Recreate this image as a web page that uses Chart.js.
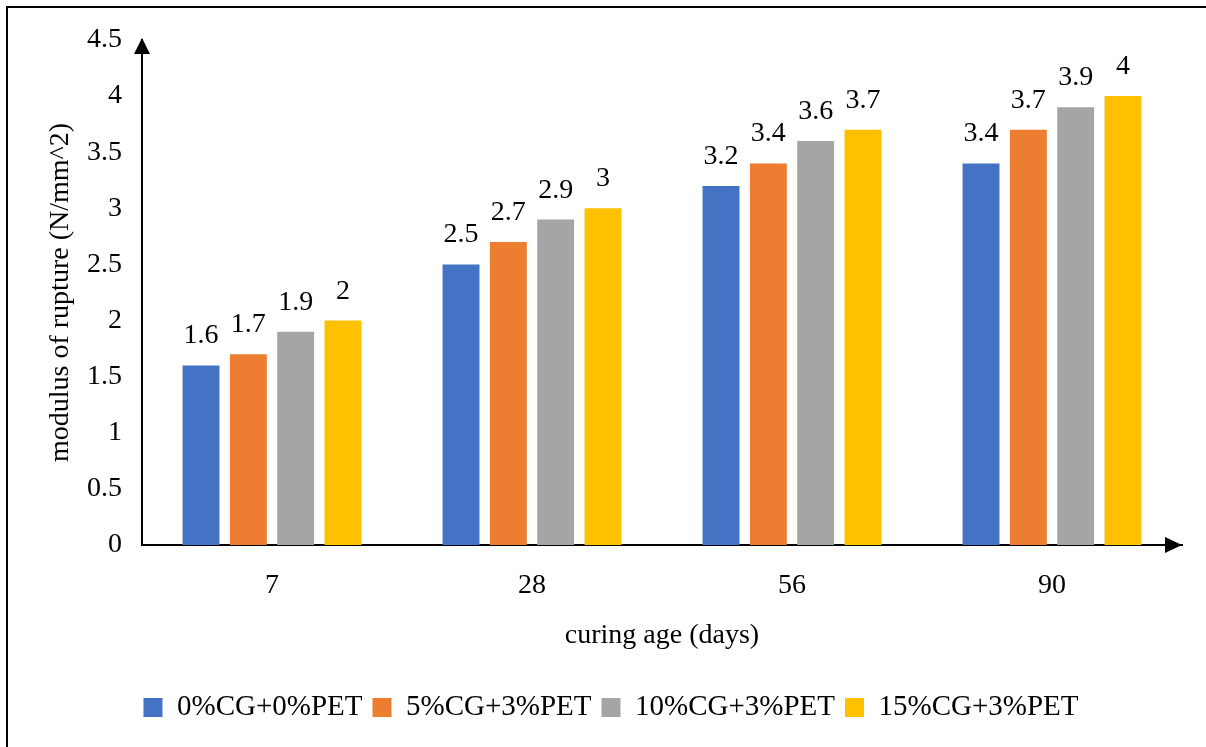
<!DOCTYPE html>
<html lang="en">
<head>
<meta charset="UTF-8">
<title>Modulus of rupture vs curing age</title>
<script src="https://cdn.jsdelivr.net/npm/chart.js@4.4.1/dist/chart.umd.min.js"></script>
<style>
    * { margin: 0; padding: 0; box-sizing: border-box; }
    body { background: #fff; width: 1206px; height: 747px; overflow: hidden; }
    .wrap { position: relative; width: 1206px; height: 747px; }
</style>
</head>
<body>
<div class="wrap"><canvas id="chart" width="1206" height="747"></canvas></div>
<script>
    // values
    const categories = ['7', '28', '56', '90'];
    const seriesNames = ['0%CG+0%PET', '5%CG+3%PET', '10%CG+3%PET', '15%CG+3%PET'];
    const mix0 = [1.6, 2.5, 3.2, 3.4];
    const mix5 = [1.7, 2.7, 3.4, 3.7];
    const mix10 = [1.9, 2.9, 3.6, 3.9];
    const mix15 = [2, 3, 3.7, 4];
    const yTicks = [0, 0.5, 1, 1.5, 2, 2.5, 3, 3.5, 4, 4.5];

    const colors = ['#4472C4', '#ED7D31', '#A5A5A5', '#FFC000'];
    const serif = '"Liberation Serif", "Times New Roman", serif';

    // outer frame + white background
    const framePlugin = {
        id: 'frame',
        beforeDraw(chart) {
            const ctx = chart.ctx;
            ctx.save();
            ctx.fillStyle = '#fff';
            ctx.fillRect(0, 0, chart.width, chart.height);
            ctx.strokeStyle = '#000';
            ctx.lineWidth = 2;
            ctx.beginPath();
            ctx.moveTo(7, chart.height);
            ctx.lineTo(7, 7);
            ctx.lineTo(chart.width, 7);
            ctx.stroke();
            ctx.restore();
        }
    };

    // value labels above bars
    const barLabels = {
        id: 'barLabels',
        afterDatasetsDraw(chart) {
            const ctx = chart.ctx;
            ctx.save();
            ctx.font = '28px ' + serif;
            ctx.fillStyle = '#000';
            ctx.textAlign = 'center';
            ctx.textBaseline = 'alphabetic';
            chart.data.datasets.forEach((ds, i) => {
                chart.getDatasetMeta(i).data.forEach((bar, j) => {
                    ctx.fillText(String(ds.data[j]), bar.x, bar.y - 22);
                });
            });
            ctx.restore();
        }
    };

    // arrow heads on the axes
    const axisArrows = {
        id: 'axisArrows',
        afterDraw(chart) {
            const ctx = chart.ctx;
            const { left, right, top, bottom } = chart.chartArea;
            ctx.save();
            ctx.fillStyle = '#000';
            ctx.beginPath();
            ctx.moveTo(left, top - 2);
            ctx.lineTo(left - 8, top + 14);
            ctx.lineTo(left + 8, top + 14);
            ctx.closePath();
            ctx.fill();
            ctx.beginPath();
            ctx.moveTo(right, bottom);
            ctx.lineTo(right - 17, bottom - 8);
            ctx.lineTo(right - 17, bottom + 8);
            ctx.closePath();
            ctx.fill();
            ctx.restore();
        }
    };

    const seriesValues = [mix0, mix5, mix10, mix15];

    new Chart(document.getElementById('chart'), {
        type: 'bar',
        data: {
            labels: categories,
            datasets: seriesNames.map((name, i) => ({
                label: name,
                data: seriesValues[i],
                backgroundColor: colors[i],
                categoryPercentage: 0.728,
                barPercentage: 0.78
            }))
        },
        options: {
            responsive: false,
            animation: false,
            devicePixelRatio: 1,
            layout: { padding: { left: 40, right: 24, top: 40, bottom: 15 } },
            plugins: {
                legend: {
                    position: 'bottom',
                    labels: {
                        font: { family: serif, size: 29 },
                        color: '#000',
                        boxWidth: 19,
                        boxHeight: 19,
                        padding: 10
                    }
                },
                tooltip: { enabled: false }
            },
            scales: {
                x: {
                    grid: { display: false },
                    border: { display: true, color: '#000', width: 2 },
                    ticks: { font: { family: serif, size: 28 }, color: '#000', padding: 16 },
                    title: {
                        display: true,
                        text: 'curing age (days)',
                        font: { family: serif, size: 28 },
                        color: '#000',
                        padding: { top: 0, bottom: 31 }
                    },
                    afterFit(scale) { scale.height = 138; }
                },
                y: {
                    min: 0,
                    max: 4.5,
                    grid: { display: false },
                    border: { display: true, color: '#000', width: 2 },
                    afterBuildTicks(scale) { scale.ticks = yTicks.map(v => ({ value: v })); },
                    ticks: {
                        font: { family: serif, size: 28 },
                        color: '#000',
                        padding: 12,
                        callback: v => String(v)
                    },
                    title: {
                        display: true,
                        text: 'modulus of rupture (N/mm^2)',
                        font: { family: serif, size: 28 },
                        color: '#000',
                        padding: 4
                    },
                    afterFit(scale) { scale.width = 102; }
                }
            }
        },
        plugins: [framePlugin, barLabels, axisArrows]
    });
</script>
</body>
</html>
